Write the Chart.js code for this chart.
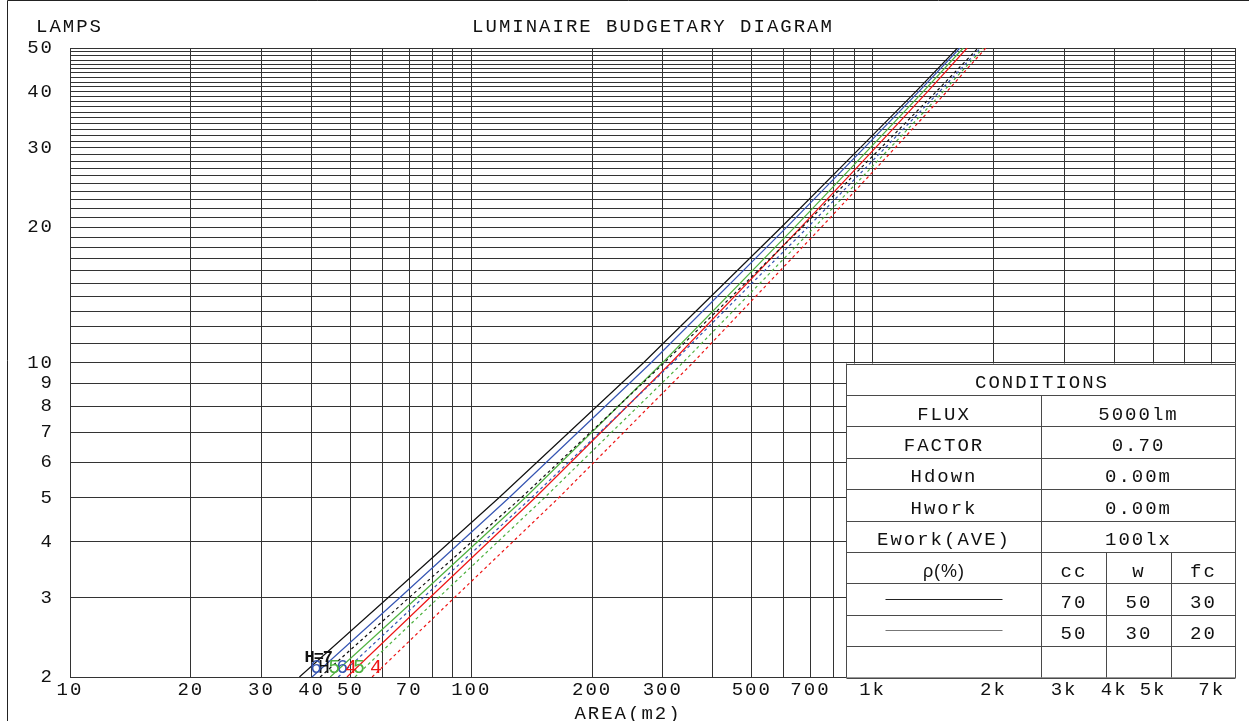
<!DOCTYPE html>
<html>
<head>
<meta charset="utf-8">
<title>Luminaire budgetary diagram</title>
<script src="https://cdn.jsdelivr.net/npm/chart.js@4.4.1/dist/chart.umd.min.js"></script>
<style>
  html, body { margin: 0; padding: 0; background: #fff; }
  canvas { display: block; }
</style>
</head>
<body>
<canvas id="budgetChart" width="1249" height="721"></canvas>
<script>
const lampSteps = [2, 3, 5, 10, 20, 30, 40, 50];

// area (m2) for each lamp count, one array per mounting height
// solid = reflectances 70/50/30, dashed = 50/30/20
const h7Solid  = [37.3, 62.0, 117, 269, 593, 931, 1281, 1628];
const h6Solid  = [40.1, 66.3, 124, 281, 611, 953, 1303, 1650];
const h5Solid  = [44.5, 73.2, 136, 300, 640, 986, 1337, 1682];
const h4Solid  = [49.0, 78.8, 144, 315, 663, 1016, 1371, 1720];
const h7Dashed = [42.0, 69.9, 133, 303, 668, 1049, 1441, 1832];
const h6Dashed = [46.6, 75.8, 141, 318, 690, 1075, 1468, 1858];
const h5Dashed = [51.3, 82.8, 152, 337, 717, 1106, 1499, 1886];
const h4Dashed = [56.6, 90.7, 165, 357, 746, 1138, 1531, 1915];

// axis ticks (every one gets a grid line, only some get a label)
const xGridValues = [10, 20, 30, 40, 50, 60, 70, 80, 90,
  100, 200, 300, 400, 500, 600, 700, 800, 900,
  1000, 2000, 3000, 4000, 5000, 6000, 7000, 8000];
const xTickLabels = [10, 20, 30, 40, 50, 70, 100, 200, 300, 500, 700, 1000, 2000, 3000, 4000, 5000, 7000];
const yGridValues = [2, 3, 4, 5, 6, 7, 8, 9, 10, 11, 12, 13, 14, 15, 16, 17, 18, 19, 20,
  21, 22, 23, 24, 25, 26, 27, 28, 29, 30, 31, 32, 33, 34, 35, 36, 37, 38, 39, 40,
  41, 42, 43, 44, 45, 46, 47, 48, 49, 50];
const yTickLabels = [2, 3, 4, 5, 6, 7, 8, 9, 10, 20, 30, 40, 50];

// conditions table
const condNames = ['FLUX', 'FACTOR', 'Hdown', 'Hwork', 'Ework(AVE)'];
const condValues = ['5000lm', '0.70', '0.00m', '0.00m', '100lx'];
const reflHeads = ['cc', 'w', 'fc'];
const reflSolid = ['70', '50', '30'];
const reflDashed = ['50', '30', '20'];

const MONO = '"Liberation Mono", "Courier New", monospace';
const BLACK = '#111', BLUE = '#3555b3', GREEN = '#4fb240', RED = '#ee1515';

// drawn in this order; label is written at the foot of each curve
const curves = [
  { areas: h4Dashed, color: RED,   dash: [3, 3], label: '4' },
  { areas: h5Dashed, color: GREEN, dash: [3, 3], label: '5' },
  { areas: h6Dashed, color: BLUE,  dash: [3, 3], label: '6' },
  { areas: h7Dashed, color: BLACK, dash: [3, 3], label: 'H' },
  { areas: h4Solid,  color: RED,   dash: [],     label: '4' },
  { areas: h5Solid,  color: GREEN, dash: [],     label: '5' },
  { areas: h6Solid,  color: BLUE,  dash: [],     label: '6' },
  { areas: h7Solid,  color: BLACK, dash: [],     label: 'H=7' }
];

function fmtArea(v) {
  return v >= 1000 ? (v / 1000) + 'k' : String(v);
}

const decorations = {
  id: 'decorations',
  beforeDraw(chart) {
    const ctx = chart.ctx;
    ctx.save();
    ctx.fillStyle = '#fff';
    ctx.fillRect(0, 0, chart.width, chart.height);
    // outer frame
    ctx.strokeStyle = '#222';
    ctx.lineWidth = 1;
    ctx.beginPath();
    ctx.moveTo(7.5, chart.height);
    ctx.lineTo(7.5, 0.5);
    ctx.lineTo(chart.width, 0.5);
    ctx.stroke();
    ctx.restore();
    // wide typewriter look for every text, tick labels included
    ctx.letterSpacing = '2px';
  },
  afterDraw(chart) {
    const ctx = chart.ctx;
    const a = chart.chartArea;
    const xs = chart.scales.x, ys = chart.scales.y;
    ctx.save();
    ctx.letterSpacing = '2px';
    ctx.fillStyle = '#111';
    ctx.font = '19px ' + MONO;
    ctx.textBaseline = 'alphabetic';

    ctx.textAlign = 'left';
    ctx.fillText('LAMPS', 36, 32);
    ctx.textAlign = 'center';
    ctx.fillText('LUMINAIRE BUDGETARY DIAGRAM', 653, 32);
    ctx.fillText('AREA(m2)', 628, 719);

    // curve labels at the foot of each line
    curves.forEach(c => {
      const px = xs.getPixelForValue(c.areas[0]);
      const py = ys.getPixelForValue(lampSteps[0]);
      ctx.fillStyle = c.color;
      ctx.textAlign = 'left';
      if (c.label === 'H=7') {
        ctx.letterSpacing = '-1px';
        ctx.font = 'bold 17px ' + MONO;
        ctx.fillText(c.label, px + 5, py - 15);
      } else {
        ctx.letterSpacing = '0px';
        ctx.font = '20px ' + MONO;
        ctx.fillText(c.label, px - 2, py - 4);
      }
    });

    // conditions table in the lower right corner
    const top = Math.round(ys.getPixelForValue(10)) + 0.5;
    const bottom = Math.round(a.bottom) + 0.5;
    const right = Math.round(a.right) + 0.5;
    const left = Math.round(a.right - 389) + 0.5;
    const rowH = (bottom - top) / 10;
    const mid = Math.round((left + right) / 2) + 0.5;
    const sub1 = Math.round(mid + (right - mid) / 3) + 0.5;
    const sub2 = Math.round(mid + 2 * (right - mid) / 3) + 0.5;
    const rowY = i => Math.round(top + i * rowH) + 0.5;

    ctx.fillStyle = '#fff';
    ctx.fillRect(left, top, right - left, bottom - top);
    ctx.strokeStyle = '#4a4a4a';
    ctx.lineWidth = 1;
    ctx.beginPath();
    for (let i = 0; i <= 10; i++) {
      ctx.moveTo(left, rowY(i));
      ctx.lineTo(right, rowY(i));
    }
    ctx.moveTo(left, top); ctx.lineTo(left, bottom);
    ctx.moveTo(right, top); ctx.lineTo(right, bottom);
    ctx.moveTo(mid, rowY(1)); ctx.lineTo(mid, bottom);
    ctx.moveTo(sub1, rowY(6)); ctx.lineTo(sub1, bottom);
    ctx.moveTo(sub2, rowY(6)); ctx.lineTo(sub2, bottom);
    ctx.stroke();

    ctx.fillStyle = '#111';
    ctx.font = '19px ' + MONO;
    ctx.letterSpacing = '2px';
    ctx.textAlign = 'center';
    const base = i => top + (i + 0.5) * rowH + 9;
    const leftC = (left + mid) / 2, rightC = (mid + right) / 2;
    const subC = [(mid + sub1) / 2, (sub1 + sub2) / 2, (sub2 + right) / 2];
    ctx.fillText('CONDITIONS', (left + right) / 2 + 1, base(0));
    condNames.forEach((n, i) => {
      ctx.fillText(n, leftC, base(i + 1));
      ctx.fillText(condValues[i], rightC, base(i + 1));
    });
    reflHeads.forEach((t, i) => ctx.fillText(t, subC[i], base(6)));
    reflSolid.forEach((t, i) => ctx.fillText(t, subC[i], base(7)));
    reflDashed.forEach((t, i) => ctx.fillText(t, subC[i], base(8)));
    ctx.font = '18px "Liberation Sans", Arial, sans-serif';
    ctx.letterSpacing = '1px';
    ctx.fillText('\u03c1(%)', leftC, base(6));

    // line samples for the two reflectance sets
    ctx.lineWidth = 1;
    ctx.strokeStyle = '#222';
    ctx.beginPath();
    ctx.moveTo(left + 39, Math.round(top + 7.5 * rowH) + 0.5);
    ctx.lineTo(left + 156, Math.round(top + 7.5 * rowH) + 0.5);
    ctx.stroke();
    ctx.strokeStyle = '#777';
    ctx.beginPath();
    ctx.moveTo(left + 39, Math.round(top + 8.5 * rowH) + 0.5);
    ctx.lineTo(left + 156, Math.round(top + 8.5 * rowH) + 0.5);
    ctx.stroke();
    ctx.restore();
  }
};

const ctx = document.getElementById('budgetChart').getContext('2d');
new Chart(ctx, {
  type: 'scatter',
  data: {
    datasets: curves.map(c => ({
      data: c.areas.map((v, i) => ({ x: v, y: lampSteps[i] })),
      showLine: true,
      borderColor: c.color,
      borderWidth: 1.2,
      borderDash: c.dash,
      pointRadius: 0,
      pointHoverRadius: 0,
      tension: 0,
      fill: false
    }))
  },
  options: {
    responsive: false,
    animation: false,
    events: [],
    layout: { padding: { top: 48, right: 14, left: 0, bottom: 0 } },
    plugins: { legend: { display: false }, tooltip: { enabled: false } },
    scales: {
      x: {
        type: 'logarithmic',
        min: 10,
        max: 8000,
        afterBuildTicks: s => { s.ticks = xGridValues.map(v => ({ value: v })); },
        afterFit: s => { s.height = 44; },
        grid: { color: '#333', lineWidth: 1, drawTicks: false },
        border: { color: '#333' },
        ticks: {
          autoSkip: false,
          maxRotation: 0,
          padding: 2,
          color: '#111',
          font: { family: MONO, size: 19 },
          callback: v => xTickLabels.includes(v) ? fmtArea(v) : ''
        }
      },
      y: {
        type: 'logarithmic',
        min: 2,
        max: 50,
        afterBuildTicks: s => { s.ticks = yGridValues.map(v => ({ value: v })); },
        afterFit: s => { s.width = 70; },
        grid: { color: '#333', lineWidth: 1, drawTicks: false },
        border: { color: '#333' },
        ticks: {
          autoSkip: false,
          padding: 16,
          color: '#111',
          font: { family: MONO, size: 19 },
          callback: v => yTickLabels.includes(v) ? String(v) : ''
        }
      }
    }
  },
  plugins: [decorations]
});
</script>
</body>
</html>
